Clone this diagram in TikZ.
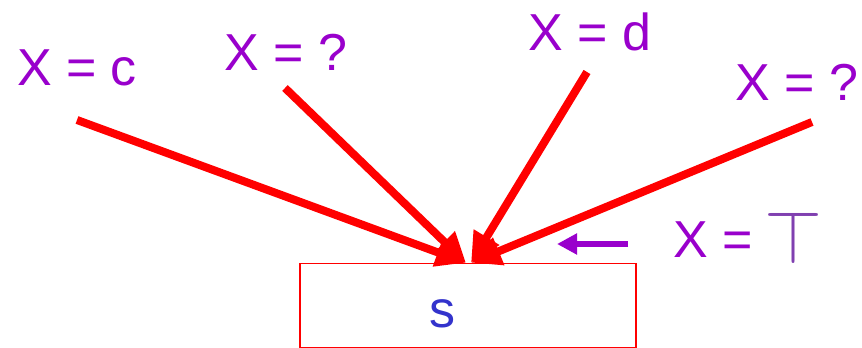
\documentclass[tikz,border=0pt]{standalone}
\usepackage{fontspec}
\setmainfont{Liberation Sans}
\usetikzlibrary{arrows.meta}
\definecolor{lblpurple}{HTML}{9900CC}
\definecolor{toppurple}{HTML}{8040B0}
\definecolor{sblue}{HTML}{3333CC}
\definecolor{edgered}{HTML}{FF0000}
\tikzset{
  lbl/.style={font=\fontsize{52}{60}\selectfont, text=lblpurple, inner sep=0pt, anchor=base},
  flow/.style={draw=edgered, line width=8pt, -{Triangle[length=30pt,width=28pt]}},
  hint/.style={draw=lblpurple, line width=6.5pt, -{Triangle[length=20pt,width=20pt]}},
  stmt/.style={draw=edgered, line width=1.5pt, minimum width=336pt, minimum height=84pt, inner sep=0pt}
}
\begin{document}
\begin{tikzpicture}[x=1pt,y=-1pt]
\useasboundingbox (0,0) rectangle (862,348);
% labels
\node[lbl] (l1) at (77,85) {X = c};
\node[lbl] (l2) at (286,70) {X = ?};
\node[lbl] (l3) at (590,50) {X = d};
\node[lbl] (l4) at (797,100) {X = ?};
\node[lbl, anchor=base west] (l5) at (673,257) {X =};
\node[text=toppurple, inner sep=0pt, anchor=south west] (l5t) at (764,264) {\resizebox{58pt}{52pt}{$\top$}};
% statement box
\node[stmt] (s) at (468,305.5) {};
\node[font=\fontsize{52}{60}\selectfont, text=sblue, inner sep=0pt, anchor=base] (st) at (442,327) {s};
% edge start points
\coordinate (a1) at (77,120);
\coordinate (a2) at (285,88);
\coordinate (a3) at (587,72);
\coordinate (a4) at (812,122);
\coordinate (tl) at ([xshift=-2pt]s.north);
\coordinate (tr) at ([xshift=3pt]s.north);
\draw[flow] (a1) -- (tl);
\draw[flow] (a2) -- (tl);
\draw[flow] (a3) -- (tr);
\draw[flow] (a4) -- (tr);
% hint arrow
\coordinate (h1) at (628,244);
\coordinate (h2) at (557,244);
\draw[hint] (h1) -- (h2);
\end{tikzpicture}
\end{document}
